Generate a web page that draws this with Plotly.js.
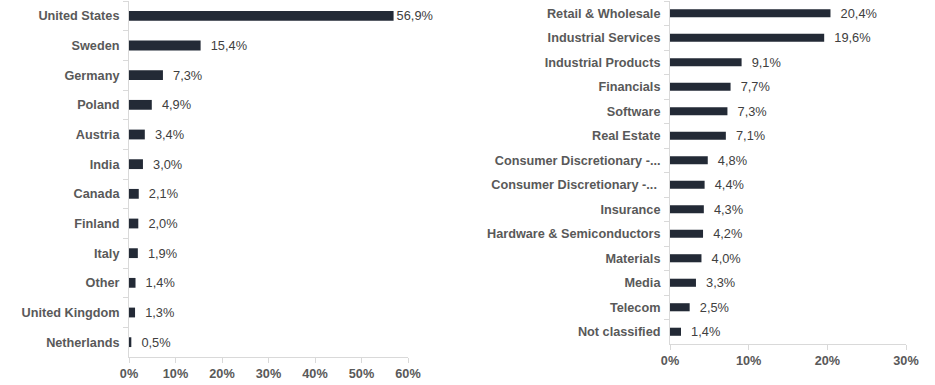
<!DOCTYPE html>
<html><head><meta charset="utf-8">
<script src="https://cdn.plot.ly/plotly-3.0.1.min.js"></script>
<style>html,body{margin:0;padding:0;background:#fff}#c{width:935px;height:385px}</style>
</head><body><div id="c"></div>
<script>
const countries = ["United States","Sweden","Germany","Poland","Austria","India","Canada","Finland","Italy","Other","United Kingdom","Netherlands"];
const countryValues = [56.9,15.4,7.3,4.9,3.4,3.0,2.1,2.0,1.9,1.4,1.3,0.5];
const sectors = ["Retail & Wholesale","Industrial Services","Industrial Products","Financials","Software","Real Estate","Consumer Discretionary -...","Consumer Discretionary -... ","Insurance","Hardware & Semiconductors","Materials","Media","Telecom","Not classified"];
const sectorValues = [20.4,19.6,9.1,7.7,7.3,7.1,4.8,4.4,4.3,4.2,4.0,3.3,2.5,1.4];
const leftTicks = [0,10,20,30,40,50,60];
const leftTickText = ["0%","10%","20%","30%","40%","50%","60%"];
const rightTicks = [0,10,20,30];
const rightTickText = ["0%","10%","20%","30%"];

const pad = "\u00a0\u00a0";
const tmpl = pad + "%{x:.1f}%";
const leftTemplates = countryValues.map((v, i) => i === 0 ? "%{x:.1f}%" : tmpl);

const barColor = "#232a36";
const labelFont = {family:"Liberation Sans, Arial", size:12.8, color:"#404040"};
const traces = [
  {type:"bar", orientation:"h", y:countries, x:countryValues, xaxis:"x", yaxis:"y",
   marker:{color:barColor}, width:0.33, texttemplate:leftTemplates, textposition:"outside",
   constraintext:"none", textfont:labelFont, cliponaxis:false, hoverinfo:"none"},
  {type:"bar", orientation:"h", y:sectors, x:sectorValues, xaxis:"x2", yaxis:"y2",
   marker:{color:barColor}, width:0.33, texttemplate:tmpl, textposition:"outside",
   constraintext:"none", textfont:labelFont, cliponaxis:false, hoverinfo:"none"}
];
const axisFont = {family:"Liberation Sans, Arial", size:12.7, color:"#595959", weight:"bold"};
const xCommon = {showgrid:false, zeroline:false, showline:true, linecolor:"#d9d9d9", linewidth:1,
  ticks:"outside", ticklen:5, tickcolor:"#d9d9d9", tickfont:axisFont, tickmode:"array", fixedrange:true};
const yCommon = {type:"category", autorange:"reversed", showgrid:false, zeroline:false, showline:true,
  linecolor:"#d9d9d9", linewidth:1, ticks:"outside", ticklen:5, tickcolor:"#d9d9d9",
  tickson:"boundaries", tickfont:axisFont, ticklabelstandoff:6, fixedrange:true};
const layout = {
  width:935, height:385, margin:{l:0,r:0,t:0,b:0}, showlegend:false,
  paper_bgcolor:"#fff", plot_bgcolor:"#fff", separators:",.",
  font:{family:"Liberation Sans, Arial"},
  xaxis:Object.assign({}, xCommon, {domain:[129/935,408/935], range:[0,60], tickvals:leftTicks, ticktext:leftTickText, anchor:"y"}),
  yaxis:Object.assign({}, yCommon, {domain:[1-357/385, 1-1/385], anchor:"x"}),
  xaxis2:Object.assign({}, xCommon, {domain:[670/935,906/935], range:[0,30], tickvals:rightTicks, ticktext:rightTickText, anchor:"y2"}),
  yaxis2:Object.assign({}, yCommon, {domain:[1-344/385, 1-1/385], anchor:"x2"})
};
Plotly.newPlot("c", traces, layout, {displayModeBar:false, staticPlot:true});
</script></body></html>
